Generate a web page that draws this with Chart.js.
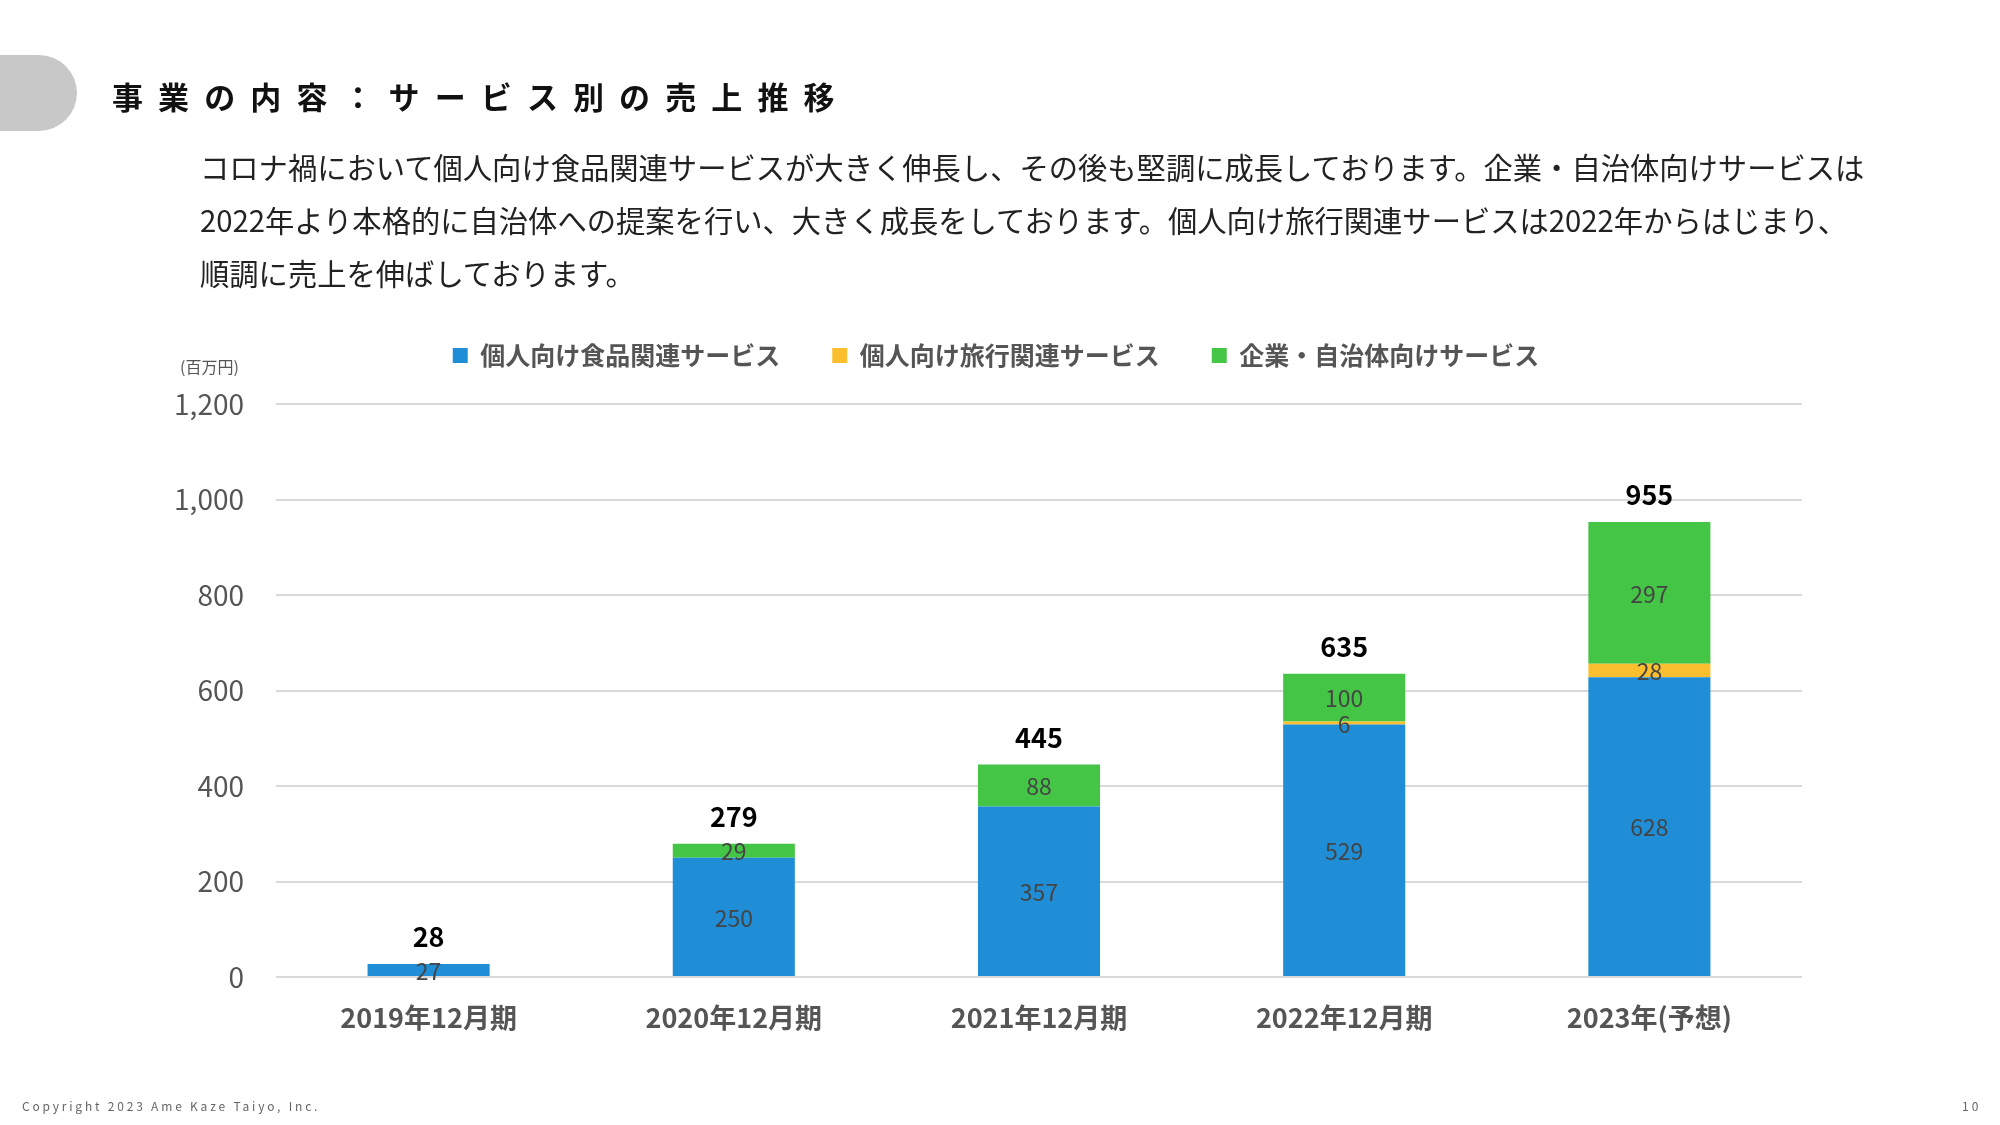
<!DOCTYPE html>
<html lang="ja">
<head>
<meta charset="utf-8">
<script src="https://cdn.jsdelivr.net/npm/chart.js@4.4.1/dist/chart.umd.min.js"></script>
<style>
  html, body { margin: 0; padding: 0; background: #fff; }
  body { width: 2000px; height: 1125px; position: relative; overflow: hidden;
         font-family: "Noto Sans CJK JP", "Noto Sans", sans-serif; }
  #wrap { position: absolute; left: 0; top: 0; width: 2000px; height: 1125px; }
  .tab { position: absolute; left: 0; top: 55px; width: 77px; height: 76px;
         background: #c8c8c8; border-radius: 0 38px 38px 0; }
  .title { position: absolute; left: 112px; top: 76px; font-size: 31px; font-weight: bold;
           letter-spacing: 15.1px; color: #111; line-height: 40px; white-space: nowrap; }
  .lead { position: absolute; left: 200px; top: 140px; font-size: 29.3px; line-height: 53px;
          color: #222; white-space: nowrap; }
  .unit { position: absolute; left: 180px; top: 354px; font-size: 16px; color: #555; }
  .copy { position: absolute; left: 22px; top: 1097px; font-size: 12px; letter-spacing: 2.8px; color: #666; }
  .page { position: absolute; left: 1962px; top: 1097px; font-size: 12px; letter-spacing: 3px; color: #666; }
</style>
</head>
<body>
<div id="wrap"><canvas id="chart"></canvas></div>
<div class="tab"></div>
<div class="title">事業の内容：サービス別の売上推移</div>
<div class="lead">コロナ禍において個人向け食品関連サービスが大きく伸長し、その後も堅調に成長しております。企業・自治体向けサービスは<br>2022年より本格的に自治体への提案を行い、大きく成長をしております。個人向け旅行関連サービスは2022年からはじまり、<br>順調に売上を伸ばしております。</div>
<div class="unit">(百万円)</div>
<div class="copy">Copyright 2023 Ame Kaze Taiyo, Inc.</div>
<div class="page">10</div>
<script>
const categories = ["2019年12月期", "2020年12月期", "2021年12月期", "2022年12月期", "2023年(予想)"];
const seriesNames = ["個人向け食品関連サービス", "個人向け旅行関連サービス", "企業・自治体向けサービス"];
const foodValues = [27, 250, 357, 529, 628];
const travelValues = [null, null, null, 6, 28];
const corporateValues = [null, 29, 88, 100, 297];
const totals = [28, 279, 445, 635, 955];
const seriesColors = ["#1f8ed6", "#fbbf2d", "#45c545"];

Chart.defaults.font.family = '"Noto Sans CJK JP", "Noto Sans", sans-serif';

// segment values inside bars, totals above
const barLabels = {
  id: "barLabels",
  afterDatasetsDraw(chart) {
    const ctx = chart.ctx;
    ctx.save();
    ctx.textAlign = "center";
    ctx.textBaseline = "middle";
    ctx.font = '23px "Noto Sans CJK JP"';
    ctx.fillStyle = "#444";
    chart.data.datasets.forEach((ds, i) => {
      const meta = chart.getDatasetMeta(i);
      meta.data.forEach((bar, j) => {
        const v = ds.data[j];
        if (v == null) return;
        ctx.fillText(v, bar.x, (bar.y + bar.base) / 2 + 1);
      });
    });
    ctx.font = 'bold 27px "Noto Sans CJK JP"';
    ctx.fillStyle = "#000";
    totals.forEach((t, j) => {
      let top = Infinity, x = 0;
      chart.data.datasets.forEach((ds, i) => {
        if (ds.data[j] == null) return;
        const bar = chart.getDatasetMeta(i).data[j];
        top = Math.min(top, bar.y);
        x = bar.x;
      });
      ctx.fillText(t, x, top - 27);
    });
    ctx.restore();
  }
};

// extra gap under the legend, and nudge it right
const legendTweak = {
  id: "legendTweak",
  beforeLayout(chart) {
    const lg = chart.legend;
    if (lg && !lg._tweaked) {
      const fit = lg.fit.bind(lg);
      lg.fit = function () { fit(); this.height += 26; };
      lg._tweaked = true;
    }
  },
  afterLayout(chart) {
    if (chart.legend) { chart.legend.left += 20; chart.legend.right += 20; }
  }
};

const canvas = document.getElementById("chart");
canvas.width = 2000;
canvas.height = 1125;

new Chart(canvas, {
  type: "bar",
  data: {
    labels: categories,
    datasets: [
      { label: seriesNames[0], data: foodValues, backgroundColor: seriesColors[0] },
      { label: seriesNames[1], data: travelValues, backgroundColor: seriesColors[1] },
      { label: seriesNames[2], data: corporateValues, backgroundColor: seriesColors[2] },
    ],
  },
  options: {
    responsive: false,
    animation: false,
    borderWidth: 0,
    categoryPercentage: 1,
    barPercentage: 0.4,
    layout: { padding: { top: 291, right: 198, left: 150, bottom: 85 } },
    plugins: {
      legend: {
        labels: {
          boxWidth: 15, boxHeight: 15, padding: 52, color: "#555",
          font: { size: 25, weight: "bold" },
        },
      },
      tooltip: { enabled: false },
    },
    scales: {
      x: {
        stacked: true,
        grid: { display: false },
        border: { display: false },
        ticks: { color: "#555", padding: 17, font: { size: 27, weight: "bold" } },
        afterFit(scale) { scale.height = 63; },
      },
      y: {
        stacked: true,
        min: 0, max: 1200,
        grid: { color: "#d9d9d9", lineWidth: 2, drawTicks: false },
        border: { display: false },
        ticks: { stepSize: 200, color: "#555", padding: 32, font: { size: 28 } },
        afterFit(scale) { scale.width = 126; },
      },
    },
  },
  plugins: [barLabels, legendTweak],
});
</script>
</body>
</html>
